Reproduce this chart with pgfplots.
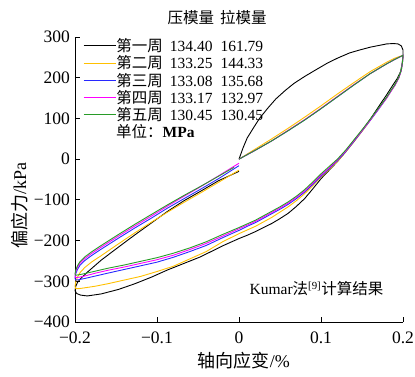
\documentclass[border=0pt]{standalone}
\usepackage{fontspec}
\setmainfont{Liberation Serif}
\newfontfamily\cjk{Noto Sans CJK SC}
\usepackage{pgfplots}
\pgfplotsset{compat=1.18}
\definecolor{cyel}{RGB}{255,192,0}
\definecolor{cblue}{RGB}{40,40,255}
\definecolor{cmag}{RGB}{255,0,255}
\definecolor{cgreen}{RGB}{40,155,40}
\begin{document}
\begin{tikzpicture}
\useasboundingbox (-75pt,-54pt) rectangle (340pt,322pt);
\begin{axis}[
  at={(0pt,0pt)}, anchor=south west,
  scale only axis, width=328pt, height=285pt,
  xmin=-0.2, xmax=0.2, ymin=-400, ymax=300,
  axis lines=left, axis line style={-, line width=0.8pt},
  tick align=inside, major tick length=5pt,
  tick style={line width=0.8pt, black},
  xtick={-0.2,-0.1,0,0.1,0.2},
  xticklabels={−0.2,−0.1,0,0.1,0.2},
  ytick={-400,-300,-200,-100,0,100,200,300},
  yticklabels={−400,−300,−200,−100,0,100,200,300},
  ticklabel style={font=\fontsize{17.5}{19}\selectfont, inner sep=1pt},
  xticklabel style={yshift=-8.3pt},
  yticklabel style={xshift=-3.8pt},
  xlabel={{\cjk 轴向应变}/\%},
  ylabel={{\cjk 偏应力}/kPa},
  label style={font=\fontsize{18}{20}\selectfont},
  xlabel style={at={(axis description cs:0.515,-0.136)}, anchor=center},
  ylabel style={at={(axis description cs:-0.17,0.41)}, anchor=center},
  clip=false,
  legend style={at={(axis description cs:0.024,0.997)}, anchor=north west,
    draw=none, fill=none, font=\fontsize{15.5}{16}\selectfont,
    row sep=1.6pt, inner sep=0pt, nodes={inner sep=0.5pt}},
  legend cell align=left,
  legend image code/.code={\draw[#1] (0pt,0pt) -- (32pt,0pt);},
]
% cycle 1
\addplot[black, line width=0.9pt] coordinates {
(0,0)(0.005,28)(0.01,52)(0.018,78)(0.025,100)(0.035,125)(0.045,148)(0.056,168)(0.067,186)(0.08,203)(0.09,215)(0.107,235)(0.12,248)(0.135,261)(0.147,268)(0.16,275)(0.17,279)(0.18,283)(0.188,284)(0.194,283)(0.198,278)(0.2,268)(0.2,255)
(0.199,235)(0.197,215)(0.193,198)(0.188,183)(0.18,158)(0.17,128)(0.16,98)(0.15,70)(0.14,44)(0.13,18)(0.12,-6)(0.11,-27)(0.1,-48)(0.09,-73)(0.08,-97)(0.07,-116)(0.06,-133)(0.05,-146)(0.04,-158)(0.03,-168)(0.02,-178)(0.01,-187)(0,-195)(-0.02,-213)(-0.047,-240)(-0.067,-256)(-0.087,-272)(-0.107,-290)(-0.127,-306)(-0.147,-320)(-0.168,-331)(-0.185,-336)(-0.193,-334)(-0.198,-330)
(-0.2,-323)(-0.199,-312)(-0.197,-303)(-0.193,-293)(-0.184,-276)(-0.168,-248)(-0.147,-216)(-0.127,-186)(-0.107,-157)(-0.087,-128)(-0.067,-102)(-0.047,-79)(-0.025,-53)(0,-30)
};
\addlegendentry{{\cjk 第一周}\hspace{7pt}134.40\hspace{8pt}161.79}
% cycle 2
\addplot[cyel, line width=0.9pt] coordinates {
(0,0)(0.02,25)(0.04,50)(0.06,76)(0.08,103)(0.1,131)(0.12,160)(0.14,188)(0.16,215)(0.18,238)(0.19,248)(0.197,253)(0.2,255)
(0.1995,240)(0.198,219)(0.195,200)(0.19,181)(0.185,166)(0.18,150)(0.17,123)(0.16,95)(0.15,68)(0.14,42)(0.13,17)(0.12,-6)(0.11,-25)(0.1,-44)(0.09,-65)(0.08,-85)(0.07,-102)(0.06,-117)(0.05,-130)(0.04,-143)(0.03,-154)(0.02,-165)(0.01,-174)(0,-183)(-0.02,-203)(-0.04,-227)(-0.06,-245)(-0.08,-263)(-0.1,-276)(-0.12,-288)(-0.14,-297)(-0.16,-306)(-0.175,-312)(-0.188,-316)(-0.195,-318)(-0.199,-318)
(-0.2,-313)(-0.199,-300)(-0.197,-290)(-0.194,-279)(-0.188,-266)(-0.18,-253)(-0.168,-237)(-0.147,-208)(-0.127,-181)(-0.107,-155)(-0.087,-130)(-0.067,-106)(-0.047,-83)(-0.025,-57)(0,-27)
};
\addlegendentry{{\cjk 第二周}\hspace{7pt}133.25\hspace{8pt}144.33}
% cycle 3
\addplot[cblue, line width=0.9pt] coordinates {
(0,0)(0.02,22)(0.04,45)(0.06,70)(0.08,96)(0.1,124)(0.12,153)(0.14,182)(0.16,210)(0.18,234)(0.19,245)(0.197,252)(0.2,255)
(0.1995,240)(0.198,219)(0.195,200)(0.19,181)(0.185,166)(0.18,150)(0.17,122)(0.16,95)(0.15,69)(0.14,43)(0.13,18)(0.12,-4)(0.11,-23)(0.1,-42)(0.09,-62)(0.08,-81)(0.07,-97)(0.06,-111)(0.05,-123)(0.04,-134)(0.03,-145)(0.02,-156)(0.01,-165)(0,-175)(-0.02,-193)(-0.04,-212)(-0.06,-227)(-0.08,-241)(-0.1,-253)(-0.12,-262)(-0.14,-271)(-0.16,-280)(-0.175,-287)(-0.188,-293)(-0.195,-296)(-0.199,-297)
(-0.2,-293)(-0.199,-281)(-0.197,-271)(-0.194,-261)(-0.188,-249)(-0.18,-237)(-0.168,-221)(-0.147,-194)(-0.127,-169)(-0.107,-145)(-0.087,-120)(-0.067,-97)(-0.047,-74)(-0.025,-48)(0,-16)
};
\addlegendentry{{\cjk 第三周}\hspace{7pt}133.08\hspace{8pt}135.68}
% cycle 4
\addplot[cmag, line width=0.9pt] coordinates {
(0,0)(0.02,22)(0.04,45)(0.06,71)(0.08,97)(0.1,125)(0.12,154)(0.14,183)(0.16,210)(0.18,234)(0.19,245)(0.197,252)(0.2,255)
(0.1995,240)(0.198,219)(0.195,200)(0.19,181)(0.185,166)(0.18,150)(0.17,123)(0.16,96)(0.15,70)(0.14,45)(0.13,20)(0.12,-2)(0.11,-21)(0.1,-39)(0.09,-59)(0.08,-78)(0.07,-94)(0.06,-108)(0.05,-120)(0.04,-131)(0.03,-142)(0.02,-153)(0.01,-162)(0,-171)(-0.02,-189)(-0.04,-207)(-0.06,-222)(-0.08,-236)(-0.1,-247)(-0.12,-256)(-0.14,-265)(-0.16,-273)(-0.175,-280)(-0.188,-287)(-0.195,-290)(-0.199,-291)
(-0.2,-287)(-0.199,-276)(-0.197,-266)(-0.194,-256)(-0.188,-244)(-0.18,-232)(-0.168,-216)(-0.147,-189)(-0.127,-164)(-0.107,-140)(-0.087,-115)(-0.067,-91)(-0.047,-68)(-0.025,-41)(0,-10)
};
\addlegendentry{{\cjk 第四周}\hspace{7pt}133.17\hspace{8pt}132.97}
% cycle 5
\addplot[cgreen, line width=0.9pt] coordinates {
(0,0)(0.02,22)(0.04,45)(0.06,70)(0.08,96)(0.1,124)(0.12,153)(0.14,182)(0.16,210)(0.18,234)(0.19,245)(0.197,252)(0.2,255)
(0.1995,240)(0.198,220)(0.195,202)(0.19,183)(0.185,168)(0.18,152)(0.17,125)(0.16,98)(0.15,72)(0.14,47)(0.13,22)(0.12,0)(0.11,-18)(0.1,-36)(0.09,-56)(0.08,-75)(0.07,-91)(0.06,-105)(0.05,-117)(0.04,-128)(0.03,-139)(0.02,-150)(0.01,-159)(0,-168)(-0.02,-185)(-0.04,-203)(-0.06,-218)(-0.08,-231)(-0.1,-242)(-0.12,-251)(-0.14,-260)(-0.16,-268)(-0.175,-275)(-0.188,-281)(-0.195,-284)(-0.199,-285)
(-0.2,-282)(-0.199,-272)(-0.197,-262)(-0.194,-252)(-0.188,-240)(-0.18,-228)(-0.168,-212)(-0.147,-185)(-0.127,-160)(-0.107,-136)(-0.087,-112)(-0.067,-89)(-0.047,-67)(-0.025,-42)(-0.006,-20)
};
\addlegendentry{{\cjk 第五周}\hspace{7pt}130.45\hspace{8pt}130.45}
\node[anchor=west, font=\fontsize{15.5}{16}\selectfont, inner sep=0pt] at (axis cs:-0.0873,348) {{\cjk 压模量}\hspace{6pt}{\cjk 拉模量}};
\node[anchor=west, font=\fontsize{15.5}{16}\selectfont, inner sep=0pt] at (axis cs:-0.150,69) {{\cjk 单位：}\textbf{MPa}};
\node[anchor=center, font=\fontsize{15.5}{16}\selectfont, inner sep=0pt] at (axis cs:0.0945,-318) {Kumar{\cjk 法}\textsuperscript{[9]}{\cjk 计算结果}};
\end{axis}
\end{tikzpicture}
\end{document}
